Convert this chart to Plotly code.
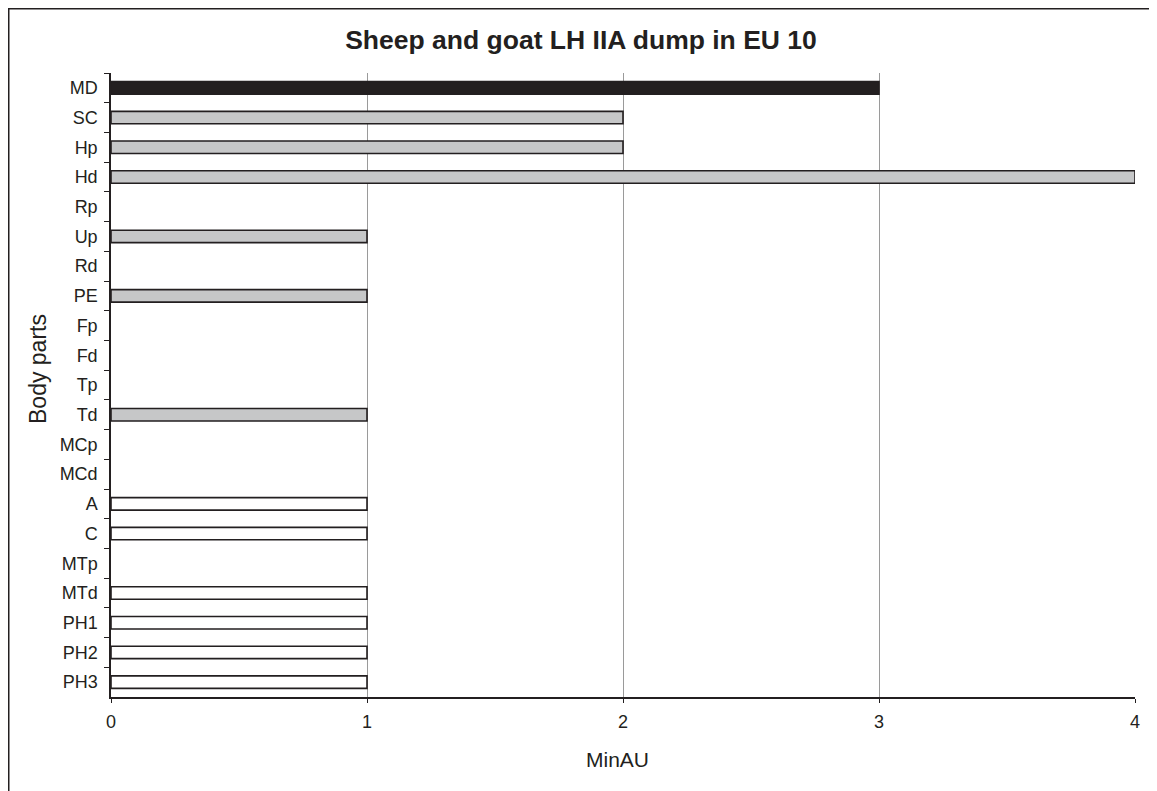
import plotly.graph_objects as go

categories = ["MD", "SC", "Hp", "Hd", "Rp", "Up", "Rd", "PE", "Fp", "Fd", "Tp",
              "Td", "MCp", "MCd", "A", "C", "MTp", "MTd", "PH1", "PH2", "PH3"]
minau = [3, 2, 2, 4, 0, 1, 0, 1, 0, 0, 0, 1, 0, 0, 1, 1, 0, 1, 1, 1, 1]
groups = ["dark", "gray", "gray", "gray", "gray", "gray", "gray", "gray", "gray", "gray", "gray",
          "gray", "white", "white", "white", "white", "white", "white", "white", "white", "white"]
x_ticks = [0, 1, 2, 3, 4]

color_map = {"dark": "#231f20", "gray": "#c6c7c8", "white": "#ffffff"}
INK = "#231f20"

# page is rendered with an 8px body margin
W, H = 1149, 783
L, R, T, B = 103, 22, 65, 94
pw, ph = W - L - R, H - T - B

fig = go.Figure()
fig.add_trace(go.Bar(
    y=categories,
    x=[v if v != 0 else None for v in minau],
    orientation="h",
    width=0.42,
    marker=dict(color=[color_map[g] for g in groups],
                line=dict(color=INK, width=1.6)),
    hoverinfo="x+y",
))

fig.update_layout(
    width=W, height=H,
    margin=dict(l=L, r=R, t=T, b=B),
    paper_bgcolor="white", plot_bgcolor="white",
    showlegend=False,
    font=dict(family="Liberation Sans, Arial, sans-serif", color=INK, size=18),
    title=dict(text="<b>Sheep and goat LH IIA dump in EU 10</b>",
               x=573 / W, xanchor="center", y=1 - 32 / H, yanchor="middle",
               font=dict(size=26.5, color=INK)),
    xaxis=dict(range=[0, 4], tickvals=x_ticks, showgrid=True, gridcolor="#9a9a9a", gridwidth=1,
               zeroline=False, showline=True, linecolor=INK, linewidth=1.5,
               ticks="outside", ticklen=4, tickcolor=INK, ticklabelstandoff=4,
               tickfont=dict(size=18)),
    yaxis=dict(categoryorder="array", categoryarray=categories, autorange="reversed",
               showline=True, linecolor=INK, linewidth=1.5, showgrid=False,
               ticks="outside", ticklen=5, tickcolor=INK, tickson="boundaries",
               ticklabelstandoff=8, tickfont=dict(size=18)),
    annotations=[
        dict(text="Body parts", xref="paper", yref="paper",
             x=(30 - L) / pw, y=1 - (361 - T) / ph, textangle=-90,
             showarrow=False, xanchor="center", yanchor="middle",
             font=dict(size=23, color=INK)),
        dict(text="MinAU", xref="paper", yref="paper",
             x=(609 - L) / pw, y=-(751 - (T + ph)) / ph,
             showarrow=False, xanchor="center", yanchor="middle",
             font=dict(size=21, color=INK)),
    ],
)

# outer frame (only its top and left edges fall inside the page)
fig.add_shape(type="rect", xref="paper", yref="paper",
              x0=(0.75 - L) / pw, x1=(W + 10 - L) / pw,
              y0=-(H + 10 - (T + ph)) / ph, y1=1 + (T - 0.75) / ph,
              line=dict(color=INK, width=1.5), fillcolor="rgba(0,0,0,0)", layer="below")

fig.write_html("out.html")
